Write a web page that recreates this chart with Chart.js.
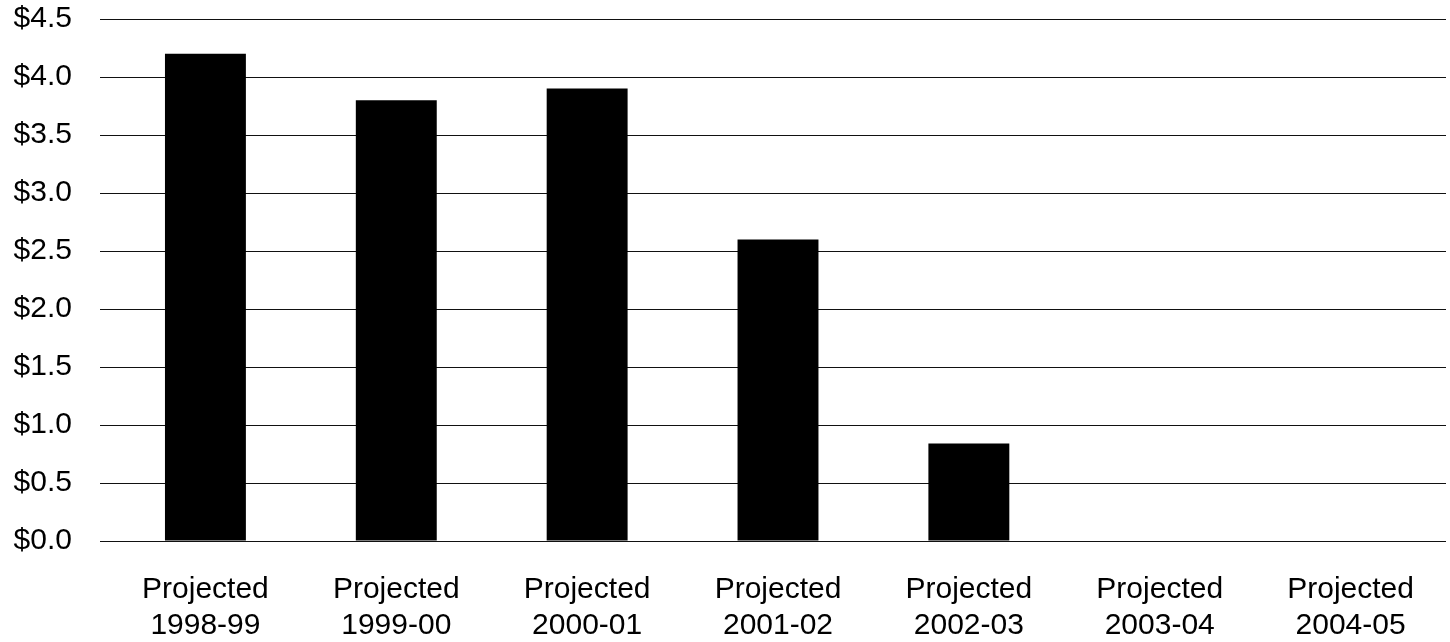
<!DOCTYPE html>
<html>
<head>
<meta charset="utf-8">
<script src="https://cdn.jsdelivr.net/npm/chart.js@4"></script>
<style>
  body { margin: 0; background: #fff; }
  #chart { display: block; }
</style>
</head>
<body>
<canvas id="chart" width="1450" height="642"></canvas>
<script>
// categorias e valores (em bilhões de $)
const categories = [
    ['Projected', '1998-99'],
    ['Projected', '1999-00'],
    ['Projected', '2000-01'],
    ['Projected', '2001-02'],
    ['Projected', '2002-03'],
    ['Projected', '2003-04'],
    ['Projected', '2004-05']
];
const values = [4.2, 3.8, 3.9, 2.6, 0.84, 0, 0];
const yMin = 0;
const yMax = 4.5;
const yStep = 0.5;

const font = { family: '"Liberation Sans", Arial, sans-serif', size: 30, lineHeight: 1.2 };

new Chart(document.getElementById('chart'), {
    type: 'bar',
    data: {
        labels: categories,
        datasets: [{
            data: values,
            backgroundColor: '#000',
            borderWidth: 0,
            barPercentage: 0.424,
            categoryPercentage: 1
        }]
    },
    options: {
        responsive: false,
        animation: false,
        layout: { padding: { top: 0, right: 4, left: 0, bottom: 0 } },
        plugins: {
            legend: { display: false },
            tooltip: { enabled: false }
        },
        scales: {
            x: {
                grid: { display: false },
                border: { display: false },
                ticks: { color: '#000', font: font, padding: 23, maxRotation: 0 },
                afterFit: function(scale) { scale.height = 101; }
            },
            y: {
                min: yMin,
                max: yMax,
                border: { display: false },
                grid: { color: '#111', lineWidth: 1, tickLength: 10 },
                ticks: {
                    stepSize: yStep,
                    color: '#000',
                    font: font,
                    padding: 28,
                    callback: function(value) {
                        return '$' + Number(value).toFixed(1);
                    }
                },
                afterFit: function(scale) {
                    scale.width = 110;
                    scale.paddingTop = 19;
                    scale.paddingBottom = 0;
                }
            }
        }
    }
});
</script>
</body>
</html>
